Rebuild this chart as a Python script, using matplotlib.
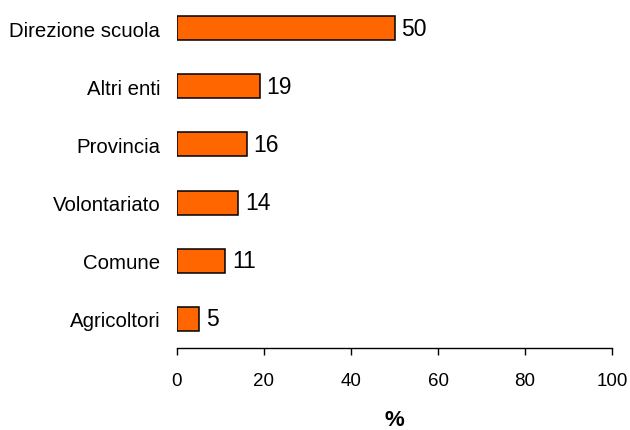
import numpy as np
import matplotlib
matplotlib.use("Agg")
import matplotlib.pyplot as plt

plt.rcParams['font.family'] = ['Liberation Sans', 'DejaVu Sans']

categories = ["Agricoltori", "Comune", "Volontariato", "Provincia", "Altri enti", "Direzione scuola"]
values = [5, 11, 14, 16, 19, 50]

fig = plt.figure(figsize=(6.3, 4.31), dpi=100)
ax = fig.add_axes([177 / 630, 1 - 349 / 431, (612 - 177) / 630, 349 / 431])

y = np.arange(len(categories))
bars = ax.barh(y, values, height=0.41, color="#FF6600", edgecolor="black", linewidth=1.1)

for yi, v in zip(y, values):
    ax.annotate(str(v), (v, yi), xytext=(5, 0), textcoords="offset points",
                va="center", ha="left", fontsize=16.5)

ax.set_xlim(0, 100)
ax.set_ylim(-0.5, 5.5)
ax.set_xticks(np.arange(0, 101, 20))
ax.set_yticks(y)
ax.set_yticklabels(categories)
ax.tick_params(axis="y", length=0, pad=12, labelsize=14.7)
ax.tick_params(axis="x", length=5, width=1, pad=12, labelsize=13.5)
ax.set_xlabel("%", fontsize=16, fontweight="bold", labelpad=15)

for s in ["top", "right", "left"]:
    ax.spines[s].set_visible(False)
ax.spines["bottom"].set_linewidth(1)

fig.savefig("out.png", dpi=100)
